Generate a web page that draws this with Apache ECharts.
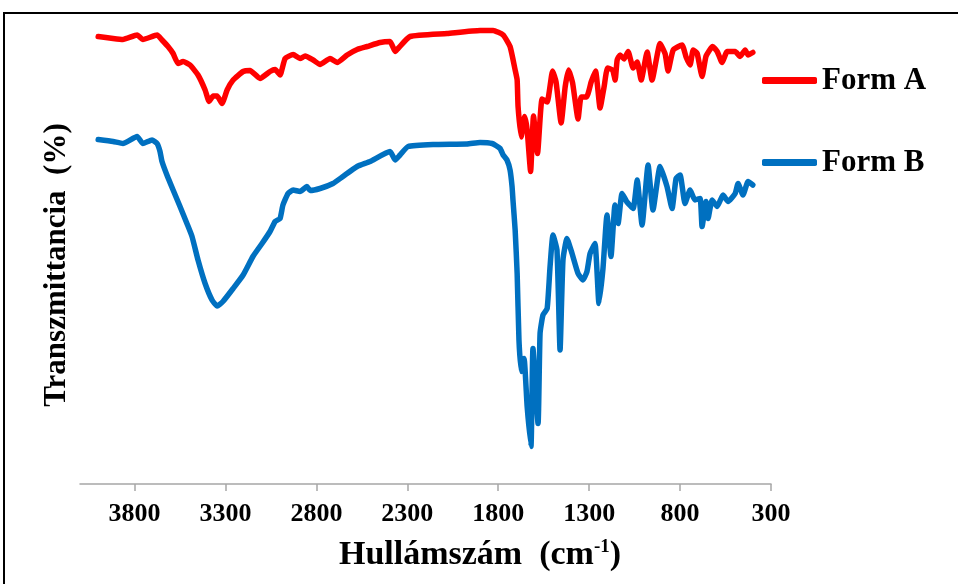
<!DOCTYPE html>
<html>
<head>
<meta charset="utf-8">
<script src="https://cdn.jsdelivr.net/npm/echarts@6/dist/echarts.min.js"></script>
<style>
  html, body { margin: 0; padding: 0; background: #ffffff; }
  #chart { width: 958px; height: 584px; }
</style>
</head>
<body>
<div id="chart"></div>
<script>
// FT-IR spectra of the two solid forms: wavenumber (cm-1) vs. transmittance
const seriesNames = ['Form A', 'Form B'];
const seriesColors = ['#FF0000', '#0070C0'];

const formAWavenumber = [4000,3918,3864,3786,3754,3676,3649,3616,3588,3561,3533,3495,3451,3412,3390,3368,3346,3319,3291,3258,3203,3165,3110,3055,3027,3000,2972,2928,2890,2862,2818,2780,2725,2686,2631,2576,2521,2450,2395,2367,2351,2285,2081,1900,1828,1773,1735,1707,1696,1691,1674,1655,1641,1622,1606,1584,1559,1531,1501,1482,1454,1432,1413,1391,1361,1344,1314,1289,1265,1240,1218,1199,1171,1157,1146,1130,1108,1086,1058,1036,1014,981,954,910,882,866,838,789,767,745,728,706,679,657,621,596,569,541,497,470,442,426,400];
const formATransmittance = [89.5,89.1,88.9,89.8,88.9,89.8,88.8,87.5,86.1,84.1,84.5,83.8,81.8,78.8,76.5,77.6,77.6,76.1,78.8,80.8,82.5,82.7,81.1,82.5,82.9,81.8,85.1,85.9,85.1,85.6,84.8,83.9,85.1,84.3,85.8,86.9,87.5,88.3,88.5,86.5,87.1,89.5,90.1,90.7,90.7,89.8,87.5,82.8,80.8,75.5,69.4,73.5,70.8,62.5,73.6,66.1,77.0,76.4,82.6,80.4,72.2,79.4,82.8,80.2,73.0,77.4,77.4,80.4,82.6,75.2,79.4,83.2,82.8,80.8,84.8,85.8,85.0,86.5,83.2,84.4,80.8,86.4,80.8,88.1,86.0,82.6,86.8,87.8,85.4,83.8,86.8,86.1,81.5,85.6,87.5,86.5,84.3,86.5,86.5,85.5,86.8,85.8,86.3];

const formBWavenumber = [4000,3918,3864,3786,3754,3704,3676,3660,3649,3622,3588,3550,3512,3484,3451,3412,3374,3346,3314,3258,3203,3149,3099,3055,3027,3000,2984,2956,2928,2890,2852,2835,2780,2709,2654,2576,2505,2395,2367,2340,2296,2159,1972,1900,1834,1790,1773,1752,1735,1724,1719,1707,1696,1686,1674,1658,1641,1620,1609,1581,1570,1554,1531,1515,1499,1477,1460,1444,1422,1394,1361,1334,1312,1295,1268,1246,1224,1202,1180,1158,1141,1119,1092,1058,1036,1009,976,949,910,872,844,822,800,773,745,718,690,679,657,646,624,596,564,536,497,481,454,426,400];
const formBTransmittance = [68.9,68.5,68.1,69.5,68.1,68.8,68.1,66.5,64.5,61.8,58.8,55.5,52.1,49.5,44.8,40.1,36.8,35.6,36.5,39.1,41.8,45.5,48.1,50.5,52.5,53.1,55.8,58.1,58.8,58.5,59.5,58.7,59.1,60.1,61.5,63.5,64.5,66.5,64.8,65.8,67.5,67.9,68.0,68.3,68.1,67.1,65.8,64.8,62.8,59.5,56.8,50.8,42.1,28.8,22.5,25.1,15.5,7.5,27.1,12.1,30.1,33.8,35.1,43.5,49.8,46.8,26.8,44.8,49.1,46.1,42.1,40.8,42.5,46.1,48.1,36.1,43.1,53.8,45.5,55.8,52.1,58.1,56.4,55.1,60.8,51.8,63.8,54.8,63.5,59.5,55.1,61.1,61.8,56.1,58.8,56.8,57.1,51.5,56.5,53.1,56.8,55.5,57.8,56.5,58.1,60.1,57.8,60.5,59.8];

const xTickValues = [3800, 3300, 2800, 2300, 1800, 1300, 800, 300];

const serif = '"Liberation Serif", "Times New Roman", serif';

function pairs(xs, ys) {
  return xs.map((x, i) => [x, ys[i]]);
}

const chart = echarts.init(document.getElementById('chart'), null, { renderer: 'canvas' });

chart.setOption({
  backgroundColor: '#ffffff',
  animation: false,
  grid: { left: 80, right: 187, top: 9, bottom: 100, containLabel: false },
  xAxis: {
    type: 'value',
    inverse: true,
    min: 300,
    max: 4100,
    axisLine: { show: true, lineStyle: { color: '#A6A6A6', width: 1.5 } },
    axisTick: {
      show: true, inside: false, length: 7,
      customValues: xTickValues,
      lineStyle: { color: '#A6A6A6', width: 1.5 }
    },
    axisLabel: {
      customValues: xTickValues,
      formatter: (v) => String(v),
      margin: 17,
      color: '#000000',
      fontFamily: serif,
      fontWeight: 'bold',
      fontSize: 26
    },
    splitLine: { show: false }
  },
  yAxis: {
    type: 'value',
    min: 0,
    max: 95,
    axisLine: { show: false },
    axisTick: { show: false },
    axisLabel: { show: false },
    splitLine: { show: false }
  },
  legend: {
    orient: 'vertical',
    left: 762,
    top: 65,
    padding: 0,
    itemWidth: 55,
    itemHeight: 7,
    itemGap: 51,
    icon: 'roundRect',
    textStyle: {
      color: '#000000',
      fontFamily: serif,
      fontWeight: 'bold',
      fontSize: 31,
      lineHeight: 31
    },
    data: seriesNames
  },
  series: [
    {
      name: seriesNames[0],
      type: 'line',
      data: pairs(formAWavenumber, formATransmittance),
      showSymbol: false,
      smooth: 0.15,
      color: seriesColors[0],
      lineStyle: { width: 5.5, color: seriesColors[0], cap: 'round', join: 'round' }
    },
    {
      name: seriesNames[1],
      type: 'line',
      data: pairs(formBWavenumber, formBTransmittance),
      showSymbol: false,
      smooth: 0.15,
      color: seriesColors[1],
      lineStyle: { width: 5.5, color: seriesColors[1], cap: 'round', join: 'round' }
    }
  ],
  graphic: [
    {
      type: 'rect',
      silent: true,
      shape: { x: 4, y: 13, width: 1000, height: 700 },
      style: { fill: 'none', stroke: '#000000', lineWidth: 2 }
    },
    {
      type: 'text',
      silent: true,
      x: 57,
      y: 265,
      rotation: Math.PI / 2,
      style: {
        text: 'Transzmittancia  (%)',
        fill: '#000000',
        font: 'bold 31px ' + serif,
        align: 'center',
        verticalAlign: 'middle'
      }
    },
    {
      type: 'text',
      silent: true,
      x: 480,
      y: 555,
      style: {
        text: '{t|Hullámszám  (cm}{s|-1}{t|)}',
        align: 'center',
        verticalAlign: 'middle',
        rich: {
          t: { fill: '#000000', font: 'bold 34px ' + serif },
          s: { fill: '#000000', font: 'bold 19px ' + serif, verticalAlign: 'top', padding: [0, 0, 14, 0] }
        }
      }
    }
  ]
});
</script>
</body>
</html>
